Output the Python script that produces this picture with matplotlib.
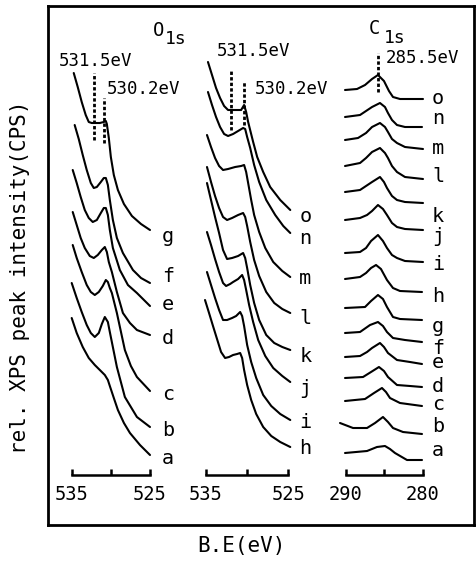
import matplotlib
matplotlib.use("Agg")
import matplotlib.pyplot as plt

plt.rcParams['font.family'] = ['DejaVu Sans Mono']

# O1s, first set of spectra (top to bottom g..a): binding energy (eV), rel. intensity
o1s_1_labels = ['g', 'f', 'e', 'd', 'c', 'b', 'a']
o1s_1_be = [
    [534.74, 534.23, 533.72, 533.21, 532.82, 532.44, 531.41, 530.90, 530.64, 530.51, 530.26, 530.00, 529.62, 529.10, 528.33, 527.31, 526.15, 525.00],
    [534.62, 534.10, 533.59, 533.08, 532.56, 532.18, 531.79, 531.28, 530.90, 530.64, 530.38, 530.13, 529.74, 529.23, 528.46, 527.18, 526.15, 525.00],
    [534.87, 534.36, 533.85, 533.33, 532.82, 532.31, 531.79, 531.28, 530.90, 530.64, 530.38, 530.13, 529.74, 528.85, 527.82, 526.67, 525.00],
    [534.87, 534.36, 533.85, 533.33, 532.69, 532.18, 531.67, 531.15, 530.77, 530.51, 530.26, 529.87, 529.23, 528.46, 527.56, 526.67, 525.00],
    [534.87, 534.36, 533.72, 533.08, 532.56, 532.05, 531.54, 531.03, 530.64, 530.38, 530.13, 529.87, 529.23, 528.21, 527.44, 526.67, 525.00],
    [535.00, 534.36, 533.72, 533.08, 532.56, 532.05, 531.54, 531.15, 530.77, 530.38, 530.13, 529.23, 528.21, 526.67, 525.00],
    [535.00, 534.36, 533.59, 532.82, 532.05, 531.28, 530.77, 530.38, 530.13, 529.62, 529.10, 528.33, 527.56, 526.28, 525.00],
]
o1s_1_int = [
    [399, 385, 370, 357, 350, 349, 349, 350, 351, 348, 334, 315, 297, 282, 268, 256, 248, 242],
    [347, 333, 317, 302, 289, 284, 285, 290, 294, 294, 287, 272, 252, 234, 219, 202, 194, 189],
    [302, 289, 275, 262, 254, 250, 252, 259, 264, 264, 257, 242, 224, 202, 187, 179, 166],
    [260, 247, 234, 224, 216, 214, 217, 222, 225, 220, 210, 200, 180, 159, 149, 142, 137],
    [227, 214, 200, 187, 180, 177, 180, 186, 192, 190, 184, 179, 159, 122, 106, 95, 81],
    [189, 174, 160, 147, 139, 135, 139, 148, 155, 150, 140, 105, 75, 55, 45],
    [154, 139, 125, 114, 107, 101, 97, 92, 86, 74, 62, 49, 39, 27, 17],
]

# O1s, second set of spectra (o..h)
o1s_2_labels = ['o', 'n', 'm', 'l', 'k', 'j', 'i', 'h']
o1s_2_be = [
    [534.76, 534.27, 533.78, 533.29, 532.80, 532.32, 531.46, 530.73, 530.37, 530.12, 529.88, 529.27, 528.78, 528.05, 527.20, 525.98, 524.76],
    [534.76, 534.27, 533.78, 533.29, 532.80, 532.32, 531.71, 531.10, 530.49, 530.24, 530.00, 529.63, 529.15, 528.54, 527.68, 526.59, 525.61, 524.76],
    [534.88, 534.39, 533.90, 533.41, 532.93, 532.32, 531.46, 530.73, 530.37, 530.12, 529.88, 529.51, 529.15, 528.54, 527.80, 526.83, 525.73, 524.76],
    [534.88, 534.39, 533.90, 533.41, 532.93, 532.44, 531.83, 531.10, 530.49, 530.24, 530.00, 529.63, 529.15, 528.54, 527.68, 526.71, 525.73, 524.76],
    [534.88, 534.39, 533.90, 533.41, 532.93, 532.44, 531.83, 531.10, 530.49, 530.24, 530.00, 529.63, 529.15, 528.54, 527.68, 526.71, 525.73, 524.76],
    [534.88, 534.39, 533.90, 533.41, 532.93, 532.56, 532.07, 531.71, 531.10, 530.61, 530.37, 530.12, 529.76, 529.27, 528.66, 527.80, 526.83, 525.73, 524.76],
    [534.88, 534.39, 533.90, 533.41, 532.93, 532.44, 531.83, 531.34, 530.85, 530.61, 530.37, 530.00, 529.51, 528.90, 528.05, 527.07, 525.98, 524.76],
    [535.12, 534.63, 534.15, 533.66, 533.17, 532.68, 532.20, 531.71, 531.22, 530.85, 530.61, 530.37, 530.00, 529.51, 528.90, 528.05, 527.07, 525.98, 524.76],
]
o1s_2_int = [
    [410, 397, 384, 374, 366, 362, 362, 362, 367, 360, 350, 330, 315, 300, 285, 272, 262],
    [380, 367, 355, 345, 338, 336, 338, 341, 344, 343, 335, 324, 307, 290, 272, 257, 246, 239],
    [337, 325, 314, 306, 302, 303, 305, 306, 307, 300, 289, 272, 257, 240, 224, 210, 201, 195],
    [305, 290, 276, 264, 255, 252, 254, 257, 259, 255, 246, 230, 212, 196, 180, 169, 163, 159],
    [289, 272, 255, 239, 222, 213, 214, 216, 219, 214, 204, 187, 169, 152, 137, 129, 125, 122],
    [240, 227, 213, 200, 189, 186, 188, 190, 193, 197, 192, 182, 167, 150, 132, 116, 104, 96, 90],
    [200, 187, 174, 162, 152, 152, 154, 156, 160, 156, 146, 127, 110, 94, 77, 66, 58, 52],
    [172, 159, 146, 133, 120, 114, 115, 117, 118, 119, 114, 102, 87, 72, 58, 45, 36, 30, 25],
]

# C1s spectra (o..a)
c1s_labels = ['o', 'n', 'm', 'l', 'k', 'j', 'i', 'h', 'g', 'f', 'e', 'd', 'c', 'b', 'a']
c1s_be = [
    [290.09, 288.53, 287.49, 286.58, 285.81, 285.03, 284.38, 283.86, 282.95, 279.96],
    [290.09, 288.14, 287.36, 286.58, 285.55, 284.90, 284.51, 283.99, 283.34, 282.30, 280.09],
    [290.09, 288.40, 287.36, 286.58, 285.55, 284.90, 284.51, 283.99, 283.34, 282.30, 279.96],
    [290.09, 288.14, 287.36, 286.58, 285.55, 284.90, 284.51, 283.99, 283.34, 282.30, 279.96],
    [290.09, 288.14, 287.36, 286.58, 285.55, 285.03, 284.64, 283.99, 283.34, 282.30, 279.96],
    [290.09, 288.14, 287.23, 286.58, 285.81, 285.16, 284.64, 283.99, 283.34, 282.30, 279.96],
    [290.09, 288.14, 287.36, 286.71, 285.81, 285.16, 284.64, 283.99, 283.34, 282.30, 279.96],
    [290.09, 288.14, 287.36, 286.71, 286.06, 285.42, 284.64, 283.86, 282.95, 280.09],
    [290.09, 287.49, 286.71, 285.81, 285.16, 284.64, 283.86, 282.95, 280.09],
    [290.09, 288.14, 286.84, 285.81, 285.16, 284.64, 283.86, 282.30, 280.09],
    [290.09, 288.14, 287.23, 286.58, 285.55, 285.03, 284.51, 283.34, 281.65, 280.09],
    [290.09, 287.75, 286.71, 285.68, 285.03, 284.51, 283.34, 281.65, 280.09],
    [290.09, 287.49, 286.32, 285.29, 284.77, 284.25, 282.95, 280.09],
    [290.74, 289.05, 287.23, 286.19, 285.16, 284.51, 283.86, 282.56, 280.09],
    [290.09, 287.23, 285.94, 284.90, 284.25, 283.60, 282.04, 280.09],
]
c1s_int = [
    [382, 383, 387, 393, 397, 391, 381, 375, 373, 373],
    [355, 357, 361, 365, 369, 365, 359, 352, 347, 345, 345],
    [332, 334, 339, 345, 349, 345, 340, 333, 329, 325, 323],
    [306, 309, 314, 320, 324, 319, 314, 306, 300, 295, 293],
    [280, 282, 286, 290, 295, 290, 284, 276, 272, 270, 269],
    [252, 254, 257, 261, 267, 263, 257, 249, 245, 243, 242],
    [219, 220, 224, 231, 237, 231, 224, 217, 214, 211, 210],
    [193, 195, 199, 204, 207, 203, 192, 184, 181, 180],
    [164, 165, 171, 177, 173, 165, 155, 153, 152],
    [139, 140, 147, 150, 146, 140, 134, 132, 130],
    [115, 116, 120, 124, 129, 125, 119, 112, 110, 108],
    [94, 95, 100, 105, 101, 95, 87, 86, 85],
    [71, 73, 79, 84, 80, 74, 69, 66],
    [49, 44, 44, 49, 55, 50, 44, 40, 38],
    [19, 21, 25, 26, 23, 19, 12, 12],
]

# peak positions marked in the figure (BE as drawn)
o1s_1_marks = [(532.14, 332, 399), (530.86, 329, 374)]
o1s_2_marks = [(531.95, 342, 402), (530.33, 347, 390)]
c1s_marks = [(285.77, 380, 419)]

# label placement (intensity where each letter sits)
o1s_1_label_y = [236, 195, 167, 133, 78, 41, 13]
o1s_2_label_y = [256, 233, 194, 154, 116, 84, 50, 24]
c1s_label_y = [374, 353, 324, 296, 256, 235, 208, 176, 146, 123, 110, 85, 68, 45, 21]

W, H = 477, 561
fig = plt.figure(figsize=(W / 100, H / 100), dpi=100)


def px_rect(x0, y0, x1, y1):
    return [x0 / W, 1 - y1 / H, (x1 - x0) / W, (y1 - y0) / H]


def px_text(x, y, s, **kw):
    fig.text(x / W, 1 - y / H, s, **kw)


frame = fig.add_axes(px_rect(48, 6, 474, 525))
frame.set_xticks([])
frame.set_yticks([])
for sp in frame.spines.values():
    sp.set_linewidth(2)

px_text(20, 277, 'rel. XPS peak intensity(CPS)', rotation=90, ha='center', va='center', fontsize=15)
px_text(241, 546, 'B.E(eV)', ha='center', va='center', fontsize=15)


def make_panel(x0, x1, xlim, ticks):
    ax = fig.add_axes(px_rect(x0, 20, x1, 475))
    ax.set_xlim(xlim)
    ax.set_ylim(-3, 452)
    ax.patch.set_visible(False)
    for s in ['top', 'right', 'left']:
        ax.spines[s].set_visible(False)
    ax.spines['bottom'].set_linewidth(1.8)
    ax.spines['bottom'].set_bounds(min(ticks), max(ticks))
    ax.set_yticks([])
    ax.set_xticks(ticks)
    ax.set_xticklabels([str(ticks[0]), '', str(ticks[2])])
    ax.tick_params(axis='x', direction='in', length=4, width=1.8, labelsize=13.5, pad=7)
    return ax


def draw_set(ax, be_list, int_list, labels, label_x, label_y, marks):
    for be, inten in zip(be_list, int_list):
        ax.plot(be, inten, color='black', lw=1.5, clip_on=False,
                solid_capstyle='round', solid_joinstyle='round')
    for lab, ly in zip(labels, label_y):
        ax.text(label_x, ly, lab, ha='center', va='center', fontsize=14.5, clip_on=False)
    for x, y0, y1 in marks:
        ax.plot([x, x], [y0, y1], color='black', lw=2, ls=(0, (1.2, 0.8)), clip_on=False)


ax1 = make_panel(71.7, 150, (535, 525), [535, 530, 525])
draw_set(ax1, o1s_1_be, o1s_1_int, o1s_1_labels, 522.7, o1s_1_label_y, o1s_1_marks)

ax2 = make_panel(206, 288.3, (535, 525), [535, 530, 525])
draw_set(ax2, o1s_2_be, o1s_2_int, o1s_2_labels, 522.93, o1s_2_label_y, o1s_2_marks)

ax3 = make_panel(345.7, 422.7, (290, 280), [290, 285, 280])
draw_set(ax3, c1s_be, c1s_int, c1s_labels, 278.0, c1s_label_y, c1s_marks)

# panel titles and peak annotations
px_text(153, 31, 'O', ha='left', va='center', fontsize=13.5)
px_text(165, 39, '1s', ha='left', va='center', fontsize=13)
px_text(369, 29, 'C', ha='left', va='center', fontsize=13.5)
px_text(384, 38, '1s', ha='left', va='center', fontsize=13)
px_text(59, 61, '531.5eV', ha='left', va='center', fontsize=12.5)
px_text(107, 89, '530.2eV', ha='left', va='center', fontsize=12.5)
px_text(217, 51, '531.5eV', ha='left', va='center', fontsize=12.5)
px_text(255, 89, '530.2eV', ha='left', va='center', fontsize=12.5)
px_text(386, 58, '285.5eV', ha='left', va='center', fontsize=12.5)

fig.savefig('out.png', dpi=100)
